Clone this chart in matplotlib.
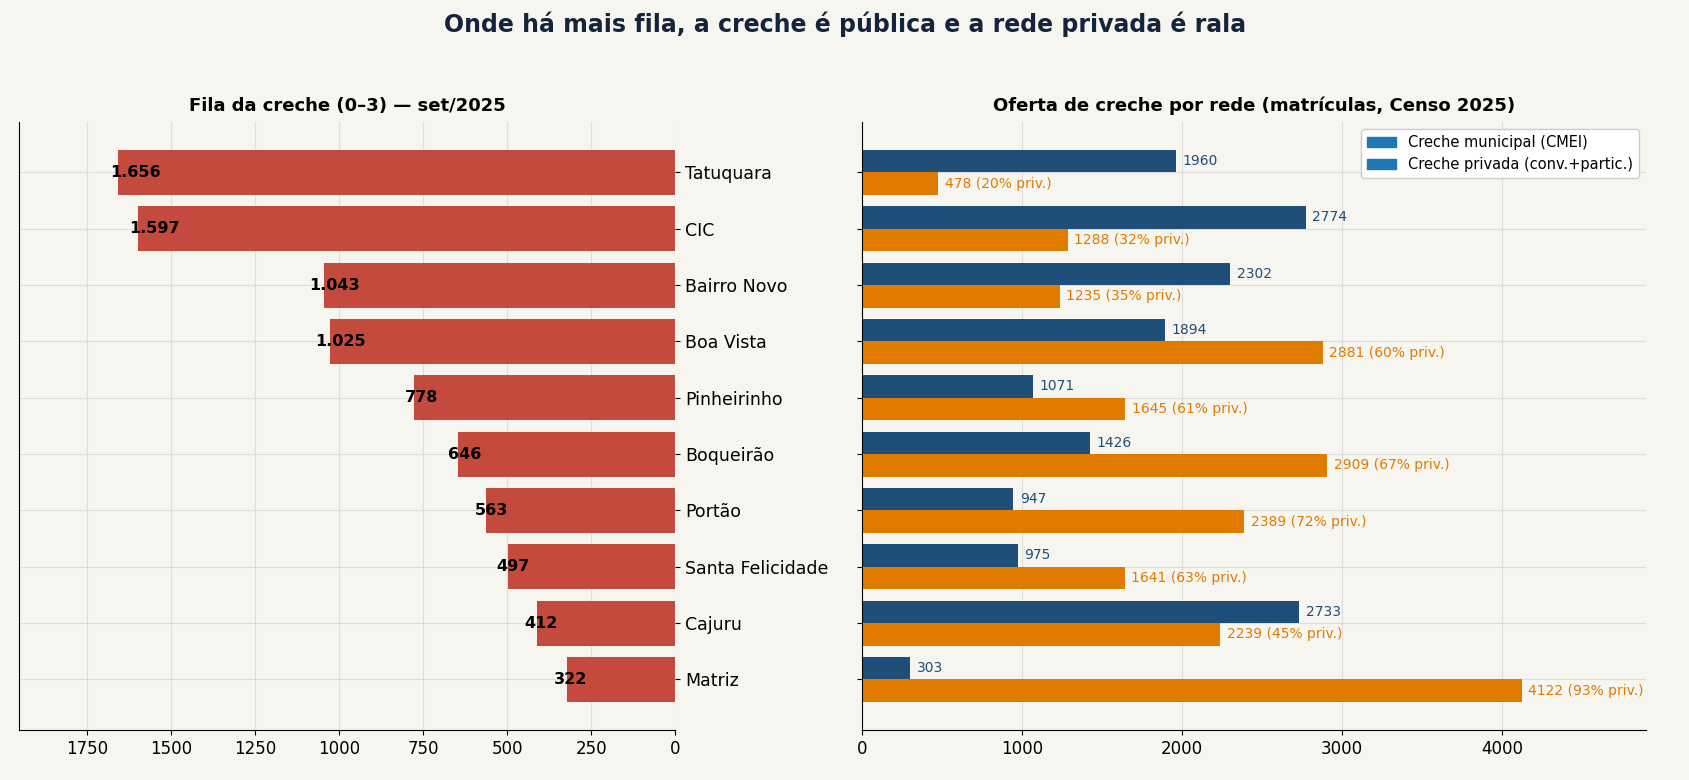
import matplotlib
matplotlib.use("Agg")
import matplotlib.pyplot as plt
import numpy as np

regions = ["Tatuquara","CIC","Bairro Novo","Boa Vista","Pinheirinho","Boqueirão","Portão","Santa Felicidade","Cajuru","Matriz"]
fila = [1656,1597,1043,1025,778,646,563,497,412,322]
fila_lbl = ["1.656","1.597","1.043","1.025","778","646","563","497","412","322"]
cmei = [1960,2774,2302,1894,1071,1426,947,975,2733,303]
priv = [478,1288,1235,2881,1645,2909,2389,1641,2239,4122]
pct = [20,32,35,60,61,67,72,63,45,93]

bg = "#f7f5f0"
fig = plt.figure(figsize=(16.9,7.8), dpi=100, facecolor=bg)
ax1 = fig.add_axes([0.0115,0.064,0.388,0.78], facecolor=bg)
ax2 = fig.add_axes([0.51,0.064,0.464,0.78], facecolor=bg)
fig.suptitle("Onde há mais fila, a creche é pública e a rede privada é rala", fontsize=17, fontweight="bold", color="#14243a", y=0.985)

y = np.arange(len(regions))
ax1.barh(y, fila, height=0.8, color="#c44a3e", zorder=2)
for yi, v, l in zip(y, fila, fila_lbl):
    ax1.text(v*0.97, yi, l, ha="center", va="center", fontsize=11.5, fontweight="bold", zorder=3)
ax1.set_xlim(1950, 0)
ax1.set_ylim(len(regions)-0.1, -0.9)
ax1.yaxis.tick_right()
ax1.set_yticks(y)
ax1.set_yticklabels(regions, fontsize=12.5)
ax1.set_xticks([1750,1500,1250,1000,750,500,250,0])
ax1.tick_params(axis="x", labelsize=12)
ax1.set_title("Fila da creche (0–3) — set/2025", fontsize=13, fontweight="bold", pad=8)
ax1.grid(True, color="#dddddd", linewidth=0.8, zorder=0)
ax1.spines["top"].set_visible(False); ax1.spines["right"].set_visible(False)

ax2.barh(y-0.2, cmei, height=0.4, color="#1f4e79", zorder=2)
ax2.barh(y+0.2, priv, height=0.4, color="#e07b00", zorder=2)
for yi, c, p, pc in zip(y, cmei, priv, pct):
    ax2.text(c+40, yi-0.2, str(c), va="center", fontsize=10, color="#1f4e79")
    ax2.text(p+40, yi+0.2, f"{p} ({pc}% priv.)", va="center", fontsize=10, color="#e07b00")
ax2.set_xlim(0, 4900)
ax2.set_ylim(len(regions)-0.1, -0.9)
ax2.set_yticks(y); ax2.set_yticklabels([])
ax2.set_xticks([0,1000,2000,3000,4000])
ax2.tick_params(axis="x", labelsize=12)
ax2.set_title("Oferta de creche por rede (matrículas, Censo 2025)", fontsize=13, fontweight="bold", pad=8)
ax2.grid(True, color="#dddddd", linewidth=0.8, zorder=0)
ax2.spines["top"].set_visible(False); ax2.spines["right"].set_visible(False)
from matplotlib.patches import Patch
ax2.legend(handles=[Patch(color="#1f77b4", label="Creche municipal (CMEI)"),
                    Patch(color="#1f77b4", label="Creche privada (conv.+partic.)")],
           loc="upper right", fontsize=10.5, framealpha=1)
fig.savefig("out.png", dpi=100, facecolor=bg)
